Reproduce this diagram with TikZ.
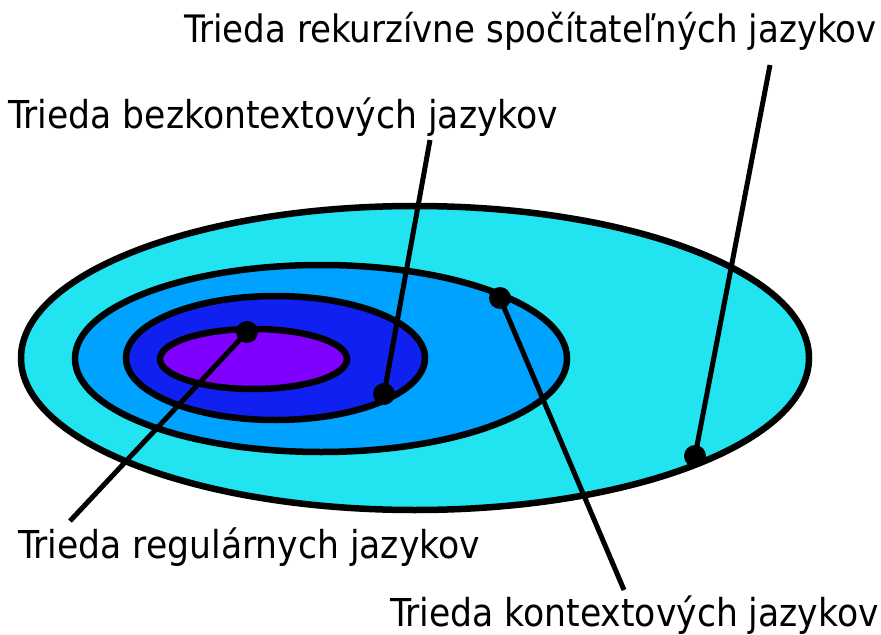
\documentclass[tikz,border=0pt]{standalone}
\usepackage{fontspec}
\setmainfont{DejaVu Sans Condensed}
\definecolor{cOuter}{RGB}{34,228,240}
\definecolor{cCF}{RGB}{0,162,255}
\definecolor{cCS}{RGB}{16,32,240}
\definecolor{cReg}{RGB}{128,0,255}
\begin{document}
\begin{tikzpicture}[x=1bp,y=-1bp,
  ring/.style={line width=6.5bp},
  dotmark/.style={circle,fill=black,inner sep=0pt,minimum size=22bp},
  lbl/.style={anchor=base west,inner sep=0pt,font=\fontsize{38.6}{40}\selectfont},
  conn/.style={line width=5bp}]
\useasboundingbox (0,0) rectangle (881,635);
% ellipses
\draw[ring,fill=cOuter] (415,358) ellipse [x radius=394, y radius=152];
\draw[ring,fill=cCF] (321,358.5) ellipse [x radius=246, y radius=93.5];
\draw[ring,fill=cCS] (275.5,358) ellipse [x radius=149.5, y radius=62];
\draw[ring,fill=cReg] (253.5,359) ellipse [x radius=93.5, y radius=30];
% anchor points
\coordinate (p1) at (247,332);
\coordinate (p2) at (384,394);
\coordinate (p3) at (500,298);
\coordinate (p4) at (695,456);
\coordinate (e1) at (70,521);
\coordinate (e2) at (430,140);
\coordinate (e3) at (624,590);
\coordinate (e4) at (770,65);
% connectors
\draw[conn] (p1) -- (e1);
\draw[conn] (p2) -- (e2);
\draw[conn] (p3) -- (e3);
\draw[conn] (p4) -- (e4);
% dots
\node[dotmark] (d1) at (p1) {};
\node[dotmark] (d2) at (p2) {};
\node[dotmark] (d3) at (p3) {};
\node[dotmark] (d4) at (p4) {};
% labels
\node[lbl,font=\fontsize{38}{40}\selectfont] (lre) at (184,43) {Trieda rekurzívne spočítateľných jazykov};
\node[lbl] (lcf) at (8,129) {Trieda bezkontextových jazykov};
\node[lbl] (lreg) at (18,558) {Trieda regulárnych jazykov};
\node[lbl] (lcs) at (390,626) {Trieda kontextových jazykov};
\end{tikzpicture}
\end{document}
